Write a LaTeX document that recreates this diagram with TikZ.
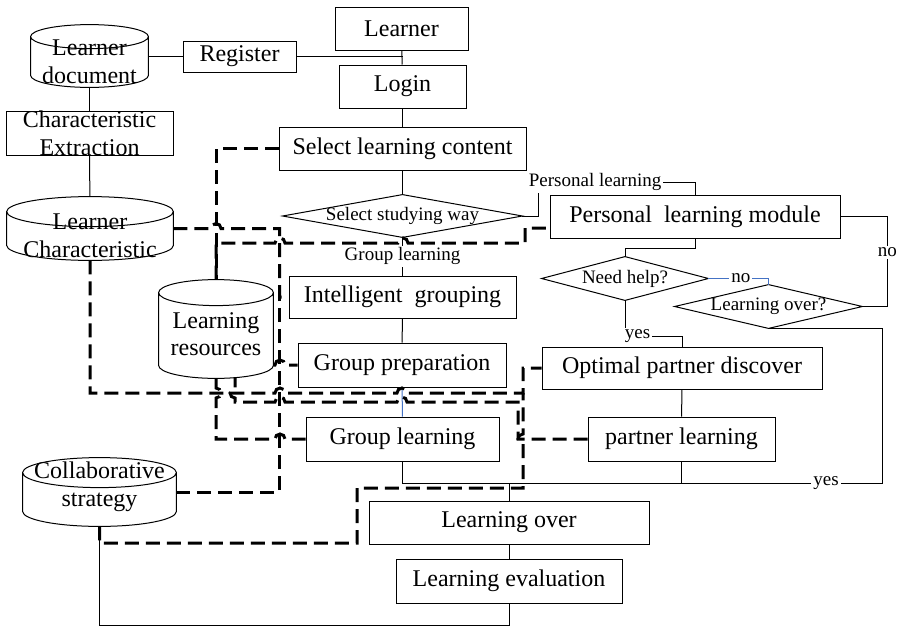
\documentclass[tikz,border=0pt]{standalone}
\usepackage{fontspec}
\setmainfont{Liberation Serif}
\usepackage{xcolor}
\usepackage{tikz}
\usetikzlibrary{calc, positioning}

\definecolor{linkblue}{RGB}{68,114,196}

% cylinder outline round a borderless node, #2 = cap radius
\newcommand{\drum}[2]{%
  \draw[line width=0.5pt] let \p1=(#1.north west), \p2=(#1.south east), \n1={0.5*(\x2-\x1)} in
    (\x1,\y1-#2) arc[start angle=180, end angle=-180, x radius=\n1, y radius=#2]
    (\x1,\y1-#2) -- (\x1,\y2+#2)
    arc[start angle=180, end angle=360, x radius=\n1, y radius=#2] -- (\x2,\y1-#2);}

\begin{document}
\begin{tikzpicture}[
      x=0.5pt, y=-0.5pt,
      font=\fontsize{12}{13.8}\selectfont,
      box/.style={draw, line width=0.5pt, inner sep=0pt, align=center, minimum height=21.5pt},
      store/.style={inner sep=0pt, align=center},
      tag/.style 2 args={label={[store, yshift=#1]center:#2}},
      choice/.style={inner sep=0pt, font=\fontsize{9.5}{11}\selectfont},
      lbl/.style={fill=white, text=black, inner sep=1pt, font=\fontsize{9.5}{11}\selectfont},
      link/.style={line width=0.5pt},
      data/.style={line width=1.5pt, dash pattern=on 7pt off 3.5pt},
      hop/.style={radius=2.5pt}
    ]
    \useasboundingbox (0,0) rectangle (900,627);

    % stores
    \node[store, minimum width=58.5pt, minimum height=31pt, tag={-2.75pt}{Learner\\document}] (ldoc) at (89.5,56) {};
    \node[store, minimum width=83pt, minimum height=31.5pt, tag={-3.5pt}{Learner\\Characteristic}] (lchar) at (90,228.5) {};
    \node[store, minimum width=57pt, minimum height=49pt, tag={-2.5pt}{Learning\\resources}] (lres) at (216,329) {};
    \node[store, minimum width=76.5pt, minimum height=34pt, tag={2.75pt}{Collaborative\\strategy}] (cstrat) at (99.5,492) {};
    \drum{ldoc}{6pt}
    \drum{lchar}{7.5pt}
    \drum{lres}{6.5pt}
    \drum{cstrat}{7.5pt}

    % boxes
    \node[box, minimum width=66.5pt] (learner) at (401.5,28.5) {Learner};
    \node[box, minimum width=56.5pt, minimum height=15.5pt] (register) at (239.5,56.5) {Register};
    \node[box, minimum width=63.5pt] (login) at (402.5,86.5) {Login};
    \node[box, minimum width=83.5pt] (charext) at (89.5,133.5) {Characteristic\\Extraction};
    \node[box, minimum width=123.5pt] (content) at (402.5,148.5) {Select learning content};
    \node[box, minimum width=145pt] (module) at (695,216.5) {Personal\ \ learning module};
    \node[box, minimum width=113.5pt, minimum height=21pt] (grouping) at (402.5,297) {Intelligent\ \ grouping};
    \node[box, minimum width=104pt, minimum height=22pt] (prep) at (402,365) {Group preparation};
    \node[box, minimum width=96.5pt, minimum height=22pt] (glearn) at (402.5,439) {Group learning};
    \node[box, minimum width=140pt, minimum height=21pt] (partner) at (682,368) {Optimal partner discover};
    \node[box, minimum width=93.5pt, minimum height=22pt] (plearn) at (681.5,439) {partner learning};
    \node[box, minimum width=140pt] (over) at (509,522.5) {Learning over};
    \node[box, minimum width=113pt, minimum height=22pt] (eval) at (509,581) {Learning evaluation};

    % decisions
    \node[choice, minimum width=119.5pt, minimum height=21pt] (way) at (402.5,216) {Select studying way};
    \node[choice, minimum width=83pt, minimum height=21.5pt] (help) at (625,278.5) {Need help?};
    \node[choice, minimum width=93.5pt, minimum height=21.5pt] (done) at (768.5,306.5) {Learning over?};
    \foreach \d in {way, help, done}
      \draw[link] (\d.west) -- (\d.north) -- (\d.east) -- (\d.south) -- cycle;

    % control flow
    \draw[link] (ldoc.east |- register.west) -- (register.west);
    \draw[link] (register.east) -- (register.east -| login.north);
    \draw[link] (learner) -- (login);
    \draw[link] (ldoc) -- (charext);
    \draw[link] (charext) -- (lchar);
    \draw[link] (login) -- (content);
    \draw[link] (content) -- (way);
    \draw[link] (way.east) -- ++(16.5,0) |- node[lbl, pos=0.68]{Personal learning} (module.north |- 0,182) -- (module.north);
    \draw[link] (way) -- node[lbl]{Group learning} (grouping);
    \draw[link] (grouping) -- (prep);
    \draw[link, linkblue] (prep) -- (glearn);
    \draw[link] (glearn.south) |- (over.north |- 0,483) -- (over.north);
    \draw[link] (plearn.south) |- (over.north |- 0,483);
    \draw[link] (module.south) -- ++(0,10) -| (help.north);
    \draw[link, linkblue] (help.east) -| node[lbl, pos=0.27]{no} (done.north);
    \draw[link] (done.east) -- ++(25,0) |- node[lbl, pos=0.3]{no} (module.east);
    \draw[link] (help.south) |- node[lbl, pos=0.61]{yes} ($(partner.north)+(0,-10)$) -- (partner.north);
    \draw[link] (partner) -- (plearn);
    \draw[link] (done.south) -| (882,483) -- node[lbl, pos=0.15]{yes} (over.north |- 0,483);
    \draw[link] (over) -- (eval);
    \draw[link] (eval.south) -- ++(0,22) -| (cstrat.south);

    % data flow, with hops where lines cross
    \draw[data] (content.west) -| (lres.north);
    \draw[data] (lchar.east) -- (211,228.5) arc[hop, start angle=180, end angle=0]
      -| ($(grouping.west)+(-9,0)$) -- (grouping.west);
    \draw[data] (cstrat.east) -| ($(grouping.west)+(-9,0)$);
    \draw[data] (lres.north) |- (275,243) arc[hop, start angle=180, end angle=0]
      -- (398,243) arc[hop, start angle=180, end angle=0]
      -- (525,243) |- (module.west |- 0,228);
    \draw[data] (prep.west -| lres.east) -- (275,365) arc[hop, start angle=180, end angle=0] -- (prep.west);
    \draw[data] (lres.south) -- (216,388) arc[hop, start angle=90, end angle=-90]
      |- (275,439) arc[hop, start angle=180, end angle=0] -- (glearn.west);
    \draw[data] (lchar.south) |- (275,393) arc[hop, start angle=180, end angle=0]
      -- (397,393) arc[hop, start angle=180, end angle=0]
      -- (523,393) |- (partner.west);
    \draw[data] (plearn.west) -| (518,402) -- (407,402) arc[hop, start angle=0, end angle=180]
      -- (285,402) arc[hop, start angle=0, end angle=180]
      -| (235,398) arc[hop, start angle=270, end angle=90] -- (235,377);
    \draw[data] (cstrat.south) |- (357,543) |- (523,488) -- (523,444)
      arc[hop, start angle=270, end angle=90] -- (523,393);
  \end{tikzpicture}
\end{document}
